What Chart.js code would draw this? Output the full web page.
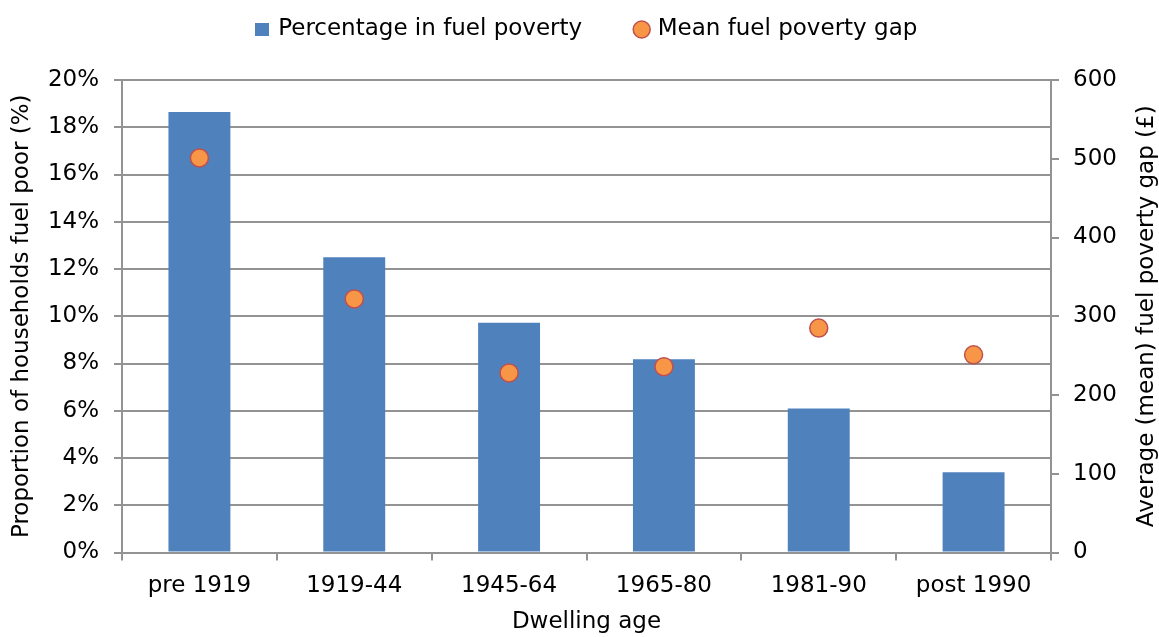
<!DOCTYPE html>
<html>
<head>
<meta charset="utf-8">
<script src="https://cdn.jsdelivr.net/npm/chart.js@4"></script>
<style>
html,body{margin:0;padding:0;background:#fff;}
canvas{display:block;}
</style>
</head>
<body>
<canvas id="c" width="1159" height="637"></canvas>
<script>
const categories = ['pre 1919', '1919-44', '1945-64', '1965-80', '1981-90', 'post 1990'];
const percentFuelPoor = [18.65, 12.5, 9.72, 8.18, 6.1, 3.4];
const meanGap = [501, 322, 228, 236, 285, 251];
const seriesNames = ['Percentage in fuel poverty', 'Mean fuel poverty gap'];
const leftTitle = 'Proportion of households fuel poor (%)';
const rightTitle = 'Average (mean) fuel poverty gap (£)';
const xTitle = 'Dwelling age';

const FONT = 'DejaVu Sans';
const GRID = '#939393';
const BAR = '#4F81BD';

// legend swatch for the bar series (a 14x13 filled square)
const barSwatch = document.createElement('canvas');
barSwatch.width = 14;
barSwatch.height = 13;
(function () {
  const g = barSwatch.getContext('2d');
  g.fillStyle = BAR;
  g.fillRect(0, 0, 14, 13);
})();

const layoutFix = {
  id: 'layoutFix',
  beforeInit(chart) {
    const legend = chart.legend;
    const origFit = legend.fit;
    legend.fit = function () { origFit.call(this); this.height = 80; };
    const origDraw = legend.draw;
    legend.draw = function () {
      const c = this.ctx;
      c.save();
      c.translate(8, -37);
      origDraw.call(this);
      c.restore();
    };
  },
  afterDraw(chart) {
    // right-axis title, reading bottom-to-top as in the reference
    const s = chart.scales.y1;
    const ctx = chart.ctx;
    ctx.save();
    ctx.translate(s.right - 12, (s.top + s.bottom) / 2);
    ctx.rotate(-Math.PI / 2);
    ctx.font = '23px "' + FONT + '"';
    ctx.fillStyle = '#000';
    ctx.textAlign = 'center';
    ctx.textBaseline = 'middle';
    ctx.fillText(rightTitle, 0, 0);
    ctx.restore();
  }
};

new Chart(document.getElementById('c'), {
  type: 'bar',
  data: {
    labels: categories,
    datasets: [
      {
        type: 'bar',
        label: seriesNames[0],
        data: percentFuelPoor,
        backgroundColor: BAR,
        borderWidth: 0,
        pointStyle: barSwatch,
        barPercentage: 0.4,
        categoryPercentage: 1.0,
        yAxisID: 'y',
        order: 2
      },
      {
        type: 'line',
        label: seriesNames[1],
        data: meanGap,
        showLine: false,
        pointStyle: 'circle',
        pointRadius: 9,
        pointHoverRadius: 9,
        pointBackgroundColor: '#F79646',
        pointBorderColor: '#C0504D',
        pointBorderWidth: 1.5,
        backgroundColor: '#F79646',
        borderColor: '#C0504D',
        yAxisID: 'y1',
        order: 1
      }
    ]
  },
  options: {
    responsive: false,
    animation: false,
    layout: { padding: 0 },
    plugins: {
      tooltip: { enabled: false },
      legend: {
        position: 'top',
        labels: {
          usePointStyle: true,
          boxWidth: 9,
          boxHeight: 12,
          padding: 55,
          color: '#000',
          font: { family: FONT, size: 23 },
          sort: (a, b) => a.datasetIndex - b.datasetIndex
        }
      }
    },
    scales: {
      x: {
        offset: true,
        grid: {
          offset: true,
          drawOnChartArea: false,
          drawTicks: true,
          tickLength: 8,
          color: GRID,
          lineWidth: 2
        },
        border: { display: true, color: GRID, width: 2 },
        ticks: { color: '#000', padding: 12, font: { family: FONT, size: 23 }, maxRotation: 0 },
        title: {
          display: true,
          text: xTitle,
          color: '#000',
          font: { family: FONT, size: 23 },
          padding: { top: 0, bottom: 1 }
        },
        afterFit(scale) { scale.height = 84.5; }
      },
      y: {
        position: 'left',
        min: 0,
        max: 20,
        ticks: {
          stepSize: 2,
          color: '#000',
          padding: 15,
          font: { family: FONT, size: 23 },
          callback: v => v + '%'
        },
        grid: { color: GRID, lineWidth: 2, tickLength: 8 },
        border: { display: true, color: GRID, width: 2 },
        title: {
          display: true,
          text: leftTitle,
          color: '#000',
          font: { family: FONT, size: 23, lineHeight: 1 },
          padding: { top: 11, bottom: 0 }
        },
        afterFit(scale) { scale.width = 122; }
      },
      y1: {
        position: 'right',
        min: 0,
        max: 600,
        ticks: {
          stepSize: 100,
          color: '#000',
          padding: 14,
          font: { family: FONT, size: 23 }
        },
        grid: { drawOnChartArea: false, color: GRID, lineWidth: 2, tickLength: 8 },
        border: { display: true, color: GRID, width: 2 },
        title: { display: false },
        afterFit(scale) { scale.width = 108; }
      }
    }
  },
  plugins: [layoutFix]
});
</script>
</body>
</html>
